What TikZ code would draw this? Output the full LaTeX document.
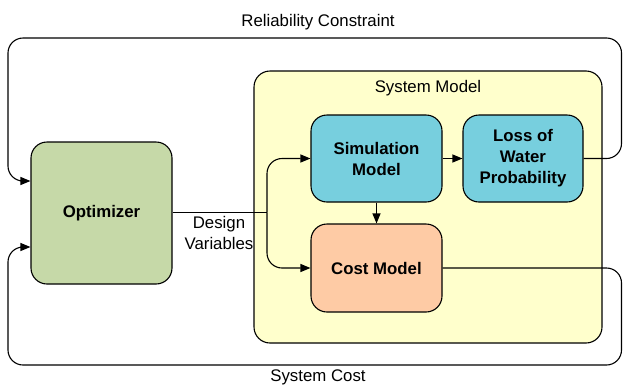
\documentclass[tikz,border=0pt]{standalone}
\usepackage{fontspec}
\setmainfont{Liberation Sans}
\usetikzlibrary{arrows.meta}
\definecolor{optgreen}{HTML}{C6D9A8}
\definecolor{simcyan}{HTML}{77CFDE}
\definecolor{costpeach}{HTML}{FECBA5}
\definecolor{sysyellow}{HTML}{FFFFCC}
\tikzset{
  box/.style={draw=black, line width=1.1pt, rounded corners=16pt, align=center,
    font=\fontsize{16.8}{21}\selectfont\bfseries, inner sep=0pt},
  lbl/.style={font=\fontsize{16.8}{21}\selectfont, align=center, inner sep=0pt},
  conn/.style={draw=black, line width=1.1pt, rounded corners=15pt},
  arr/.style={conn, -{Triangle[length=10pt,width=8pt]}},
}
\begin{document}
\begin{tikzpicture}[x=1pt,y=-1pt]
\useasboundingbox (0,0) rectangle (623,386);
\node[box, fill=sysyellow, minimum width=348pt, minimum height=272pt] (sys) at (428,207) {};
\node[lbl] (syslbl) at (428,88) {System Model};
\node[box, fill=optgreen, minimum width=141pt, minimum height=142pt] (opt) at (101.5,213) {Optimizer};
\node[box, fill=simcyan, minimum width=131pt, minimum height=87pt] (sim) at (376.5,158.5) {Simulation\\Model};
\node[box, fill=simcyan, minimum width=120pt, minimum height=87pt] (loss) at (523,158.5) {Loss of\\Water\\Probability};
\node[box, fill=costpeach, minimum width=131pt, minimum height=88pt] (cost) at (376.5,268) {Cost Model};
\node[lbl] (dv) at (219,233) {Design\\Variables};
\node[lbl] (rc) at (318,22) {Reliability Constraint};
\node[lbl] (sc) at (318,377.5) {System Cost};
\coordinate (j) at (267,212.5);
\coordinate (rtop) at (621.5,38);
\coordinate (ltop) at (8,38);
\coordinate (rbot) at (621.5,365);
\coordinate (lbot) at (8,365);
\draw[conn] (opt.east |- j) -- (j);
\draw[arr] (j) |- (sim.west);
\draw[arr] (j) |- (cost.west);
\draw[arr] (sim.east) -- (loss.west);
\draw[arr] (sim.south) -- (cost.north);
\draw[arr] (loss.east) -| (rtop) -| (ltop |- 0,181) -- (opt.west |- 0,181);
\draw[arr] (cost.east) -| (rbot) -| (lbot |- 0,247) -- (opt.west |- 0,247);
\end{tikzpicture}
\end{document}
